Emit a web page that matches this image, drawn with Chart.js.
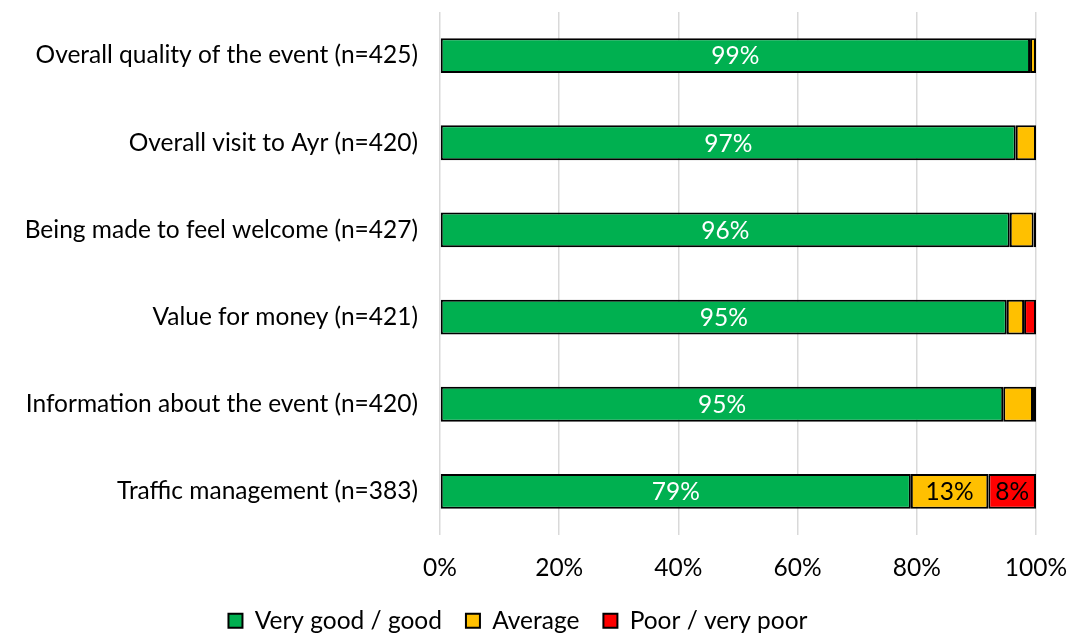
<!DOCTYPE html>
<html>
<head>
<meta charset="utf-8">
<script src="https://cdn.jsdelivr.net/npm/chart.js@4/dist/chart.umd.min.js"></script>
<style>
html,body{margin:0;padding:0;background:#fff;}
#wrap{width:1072px;height:633px;position:relative;}
</style>
</head>
<body>
<div id="wrap"><canvas id="c" width="1072" height="633"></canvas></div>
<script>
const categories = [
  "Overall quality of the event (n=425)",
  "Overall visit to Ayr (n=420)",
  "Being made to feel welcome (n=427)",
  "Value for money (n=421)",
  "Information about the event (n=420)",
  "Traffic management (n=383)"
];
const veryGood = [99.0, 96.6, 95.6, 95.1, 94.5, 79.0];
const average  = [1.0, 3.4, 4.0, 2.9, 5.0, 13.0];
const poor     = [0.0, 0.0, 0.4, 2.0, 0.5, 8.0];
const tickValues = [0, 20, 40, 60, 80, 100];

const FONT = "Lato";
const FS = 24.5;

const labelPlugin = {
  id: 'barLabels',
  afterDatasetsDraw(chart) {
    const ctx = chart.ctx;
    ctx.save();
    ctx.font = FS + "px " + FONT;
    ctx.textAlign = 'center';
    ctx.textBaseline = 'middle';
    chart.data.datasets.forEach((ds, di) => {
      const meta = chart.getDatasetMeta(di);
      meta.data.forEach((bar, i) => {
        const v = ds.data[i];
        if (v < 7) return;
        const x = (bar.x + bar.base) / 2;
        ctx.fillStyle = ds.labelColor;
        ctx.fillText(Math.round(v) + '%', x, bar.y + 1);
      });
    });
    ctx.restore();
  }
};

new Chart(document.getElementById('c'), {
  type: 'bar',
  data: {
    labels: categories,
    datasets: [
      {label: 'Very good / good', data: veryGood, backgroundColor: '#00B050', borderColor: '#000', borderWidth: 2, labelColor: '#fff'},
      {label: 'Average', data: average, backgroundColor: '#FFC000', borderColor: '#000', borderWidth: 2, labelColor: '#000'},
      {label: 'Poor / very poor', data: poor, backgroundColor: '#FF0000', borderColor: '#000', borderWidth: 2, labelColor: '#000'}
    ]
  },
  options: {
    indexAxis: 'y',
    responsive: false,
    animation: false,
    layout: {padding: {top: 12, right: 36, left: 0, bottom: -10}},
    datasets: {bar: {categoryPercentage: 0.4, barPercentage: 1.0, borderSkipped: false}},
    scales: {
      x: {
        stacked: true, min: 0, max: 100,
        afterBuildTicks: (axis) => { axis.ticks = tickValues.map(v => ({value: v})); },
        afterFit: (s) => { s.height = 49.5; s.paddingLeft = 0; s.paddingRight = 0; },
        grid: {color: '#d9d9d9', lineWidth: 1.5, drawTicks: false},
        border: {display: false},
        ticks: {padding: 18, color: '#000', font: {family: FONT, size: FS}, callback: v => v + '%'}
      },
      y: {
        stacked: true,
        afterFit: (s) => { s.width = 440; s.paddingTop = 0; s.paddingBottom = 0; },
        grid: {display: false, drawTicks: false},
        border: {display: false},
        ticks: {padding: 22, color: '#000', font: {family: FONT, size: FS}}
      }
    },
    plugins: {
      legend: {
        position: 'bottom',
        labels: {
          color: '#000', font: {family: FONT, size: FS},
          boxWidth: 14, boxHeight: 14, padding: 24
        }
      },
      tooltip: {enabled: false}
    }
  },
  plugins: [labelPlugin]
});
</script>
</body>
</html>
